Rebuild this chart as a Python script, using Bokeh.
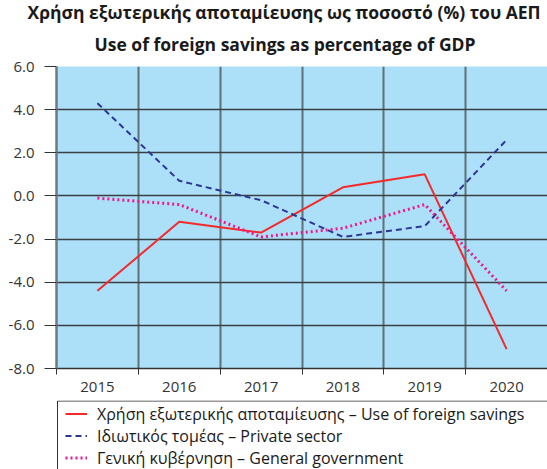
from bokeh.plotting import figure
from bokeh.layouts import column
from bokeh.models import (Range1d, FixedTicker, NumeralTickFormatter, Legend,
                          LegendItem, Title, ColumnDataSource)
from bokeh.embed import file_html
from bokeh.resources import INLINE

years = ["2015", "2016", "2017", "2018", "2019", "2020"]
foreign_savings = [-4.4, -1.2, -1.7, 0.4, 1.0, -7.1]
private_sector = [4.3, 0.7, -0.2, -1.9, -1.4, 2.6]
general_government = [-0.1, -0.4, -1.9, -1.5, -0.4, -4.4]
y_ticks = [-8, -6, -4, -2, 0, 2, 4, 6]

title1 = "Χρήση εξωτερικής αποταμίευσης ως ποσοστό (%) του ΑΕΠ"
title2 = "Use of foreign savings as percentage of GDP"
labels = ["Χρήση εξωτερικής αποταμίευσης – Use of foreign savings",
          "Ιδιωτικός τομέας – Private sector",
          "Γενική κυβέρνηση – General government"]

FONT = "Open Sans"
RED, BLUE, PINK = "#F42A2A", "#2E3594", "#EC1A8C"
styles = [dict(line_color=RED, line_width=2),
          dict(line_color=BLUE, line_width=2, line_dash="6 4"),
          dict(line_color=PINK, line_width=3, line_dash="2 3")]

xs = [i + 0.5 for i in range(len(years))]

p = figure(width=547, height=400, output_backend="svg",
           toolbar_location=None,
           x_range=Range1d(0, len(years)), y_range=Range1d(-8, 6),
           min_border_left=56, min_border_right=0, min_border_top=66,
           min_border_bottom=32)
p.background_fill_color = "#ACDFF8"
p.outline_line_color = None

src = ColumnDataSource(dict(x=xs, a=foreign_savings, b=private_sector,
                            c=general_government))
cols = ["a", "b", "c"]
for c, s in zip(cols, styles):
    p.line("x", c, source=src, **s)

# axes
p.yaxis.ticker = FixedTicker(ticks=y_ticks)
p.yaxis.formatter = NumeralTickFormatter(format="0.0")
p.yaxis.major_tick_out = 12
p.yaxis.major_tick_in = 0
p.yaxis.minor_tick_line_color = None
p.yaxis.major_tick_line_color = "#333333"
p.yaxis.axis_line_color = "#6E7A80"
p.yaxis.axis_line_width = 2.5
p.yaxis.major_label_standoff = 10
p.yaxis.major_label_text_font = FONT
p.yaxis.major_label_text_font_size = "15px"
p.yaxis.major_label_text_color = "#333333"

p.xaxis.ticker = FixedTicker(ticks=xs, minor_ticks=list(range(len(years) + 1)))
p.xaxis.major_label_overrides = {x: y for x, y in zip(xs, years)}
p.xaxis.major_tick_line_color = None
p.xaxis.minor_tick_out = 6
p.xaxis.minor_tick_in = 0
p.xaxis.minor_tick_line_color = "#333333"
p.xaxis.axis_line_color = "#333333"
p.xaxis.axis_line_width = 1.5
p.xaxis.major_label_standoff = 7
p.xaxis.major_label_text_font = FONT
p.xaxis.major_label_text_font_size = "15px"
p.xaxis.major_label_text_color = "#333333"

# grids
p.ygrid.ticker = FixedTicker(ticks=y_ticks)
p.ygrid.grid_line_color = "#3A3F42"
p.ygrid.grid_line_width = 1.3
p.xgrid.ticker = FixedTicker(ticks=list(range(1, len(years))))
p.xgrid.grid_line_color = "#5F7077"
p.xgrid.grid_line_width = 2

# titles
t2 = Title(text=title2, align="left", offset=38, text_font=FONT,
           text_font_size="17.5px", text_font_style="bold", text_color="#1a1a1a",
           standoff=21)
t1 = Title(text=title1, align="left", offset=-29, text_font=FONT,
           text_font_size="17.5px", text_font_style="bold", text_color="#1a1a1a",
           standoff=-9)
p.add_layout(t2, "above")
p.add_layout(t1, "above")

# legend panel below the chart (frame aligned with the chart's frame)
leg = figure(width=547, height=69, output_backend="svg", toolbar_location=None,
             x_range=Range1d(0, 491), y_range=Range1d(69, 0),
             x_axis_location=None, y_axis_location=None,
             min_border_left=56, min_border_right=0, min_border_top=0,
             min_border_bottom=0)
leg.xgrid.visible = False
leg.ygrid.visible = False
leg.outline_line_color = None
leg.background_fill_color = "white"
leg.border_fill_color = "white"
leg.quad(left=[1], right=[600], top=[0.5], bottom=[120], fill_color="white",
         line_color="#333333", line_width=1)
dummies = [leg.line("x", c, source=src, visible=False, **s)
           for c, s in zip(cols, styles)]

legend = Legend(items=[LegendItem(label=l, renderers=[r])
                       for l, r in zip(labels, dummies)],
                location=(9, 0.5), orientation="vertical")
legend.label_text_font = FONT
legend.label_text_font_size = "16px"
legend.label_text_color = "#1a1a1a"
legend.glyph_width = 22
legend.glyph_height = 21
legend.label_height = 21
legend.label_standoff = 10
legend.spacing = 0
legend.padding = 0
legend.margin = 0
legend.border_line_color = None
legend.background_fill_alpha = 0
leg.add_layout(legend, "center")

layout = column(p, leg, spacing=0)
open("out.html", "w").write(file_html(layout, INLINE))
